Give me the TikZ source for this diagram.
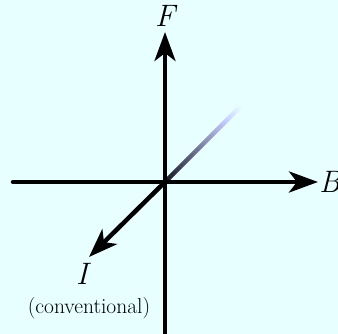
\documentclass[tikz,border=0pt]{standalone}
\usepackage{fontspec}
\usetikzlibrary{arrows.meta,calc,positioning}
\definecolor{bgcyan}{RGB}{232,255,255}
\definecolor{fadeblue}{RGB}{196,204,255}
\definecolor{darkend}{RGB}{22,22,34}

\begin{document}
\begin{tikzpicture}[
  x=1pt, y=1pt,
  axis/.style={line width=4.5pt, line cap=round,
    -{Stealth[length=29pt, width=21pt, inset=8pt]}},
  glow/.style={line width=4.5pt, line cap=butt},
  lbl/.style={inner sep=0pt, font=\fontsize{31}{36}\selectfont\itshape},
  note/.style={inner sep=0pt, font=\fontsize{21.5}{26}\selectfont}
]
\fill[bgcyan] (0,0) rectangle (338,334);
\useasboundingbox (0,0) rectangle (338,334);
\coordinate (O) at (165,152);
\coordinate (W) at (13,152);
\coordinate (E) at (318,152);
\coordinate (S) at (165,-10);
\coordinate (N) at (165,302);
\coordinate (SW) at (89,77);
\coordinate (NE) at (242,229);
% faded part of the current line
\foreach \k in {0,...,31}{
  \pgfmathsetmacro\p{100*\k/31}
  \draw[glow, fadeblue!\p!darkend] ($(O)!{\k/40}!(NE)$) -- ($(O)!{(\k+1.1)/40}!(NE)$);
}
\foreach \k in {32,...,39}{
  \pgfmathsetmacro\p{100*(\k-31)/8}
  \draw[glow, bgcyan!\p!fadeblue] ($(O)!{\k/40}!(NE)$) -- ($(O)!{(\k+1.1)/40}!(NE)$);
}
\draw[axis] (W) -- (E);
\draw[axis] (S) -- (N);
\draw[axis] (O) -- (SW);
\node[lbl, above=5pt of N] (F) {F};
\node[lbl, right=1pt of E] (B) {B};
\node[lbl, below=6pt of SW, xshift=-7pt] (I) {I};
\node[note, below=13pt of I, xshift=7pt] (conv) {(conventional)};
\end{tikzpicture}
\end{document}
